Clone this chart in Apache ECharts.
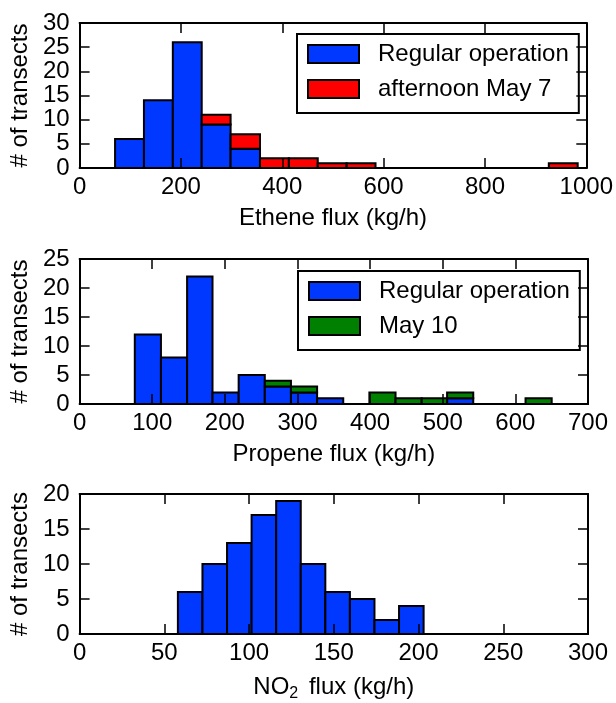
<!DOCTYPE html>
<html>
<head>
<meta charset="utf-8">
<script src="https://cdn.jsdelivr.net/npm/echarts@6.0.0/dist/echarts.min.js"></script>
<style>
  html, body { margin: 0; padding: 0; background: #fff; }
  #chart { width: 616px; height: 703px; }
</style>
</head>
<body>
<div id="chart"></div>
<script>
// histogram bin edges and counts
const etheneEdges = [70, 127, 184, 241, 298, 356, 413, 470, 527, 584, 641, 698, 755, 812, 869, 926, 983];
const etheneRegular = [6, 14, 26, 9, 4, 0, 0, 0, 0, 0, 0, 0, 0, 0, 0, 0];
const etheneMay7 = [0, 0, 0, 2, 3, 2, 2, 1, 1, 0, 0, 0, 0, 0, 0, 1];

const propeneEdges = [76, 112, 148, 183, 219, 255, 291, 327, 363, 399, 435, 471, 506, 542, 578, 614, 650];
const propeneRegular = [12, 8, 22, 2, 5, 3, 2, 1, 0, 0, 0, 0, 1, 0, 0, 0];
const propeneMay10 = [0, 0, 0, 0, 0, 1, 1, 0, 0, 2, 1, 1, 1, 0, 0, 1];

const no2Edges = [58, 72.5, 87, 101.5, 116, 130.5, 145, 159.5, 174, 188.5, 203];
const no2Counts = [6, 10, 13, 17, 19, 10, 6, 5, 2, 4];

const BLUE = "#0038ff";
const RED = "#ff0000";
const GREEN = "#008000";
const FONT = "Liberation Sans";

// [x0, x1, y0, y1] rectangles, stacked on top of `base`
function toRects(edges, counts, base) {
  const out = [];
  counts.forEach((c, i) => {
    if (!c) return;
    const b = base ? base[i] : 0;
    out.push([edges[i], edges[i + 1], b, b + c]);
  });
  return out;
}

function renderBar(params, api) {
  const p0 = api.coord([api.value(0), api.value(3)]);
  const p1 = api.coord([api.value(1), api.value(2)]);
  return {
    type: "rect",
    shape: { x: p0[0], y: p0[1], width: p1[0] - p0[0], height: p1[1] - p0[1] },
    style: { fill: api.visual("color"), stroke: "#000", lineWidth: 2 },
  };
}

const panels = [
  { top: 23, height: 145, xmax: 1000, xint: 200, ymax: 30, name: "Ethene flux (kg/h)" },
  { top: 259, height: 145, xmax: 700, xint: 100, ymax: 25, name: "Propene flux (kg/h)" },
  { top: 494, height: 144, xmax: 300, xint: 50, ymax: 20, name: "NO{sub|2} flux (kg/h)" },
];

const tick = { show: true, inside: true, length: 10, lineStyle: { color: "#000", width: 1.5 } };
const line = { show: true, onZero: false, lineStyle: { color: "#000", width: 2 } };
const labelFont = { fontFamily: FONT, fontSize: 24, color: "#000" };
const plain = (v) => String(v);

const grid = [], xAxis = [], yAxis = [];
panels.forEach((p, i) => {
  grid.push({ left: 79, width: 509, top: p.top, height: p.height });
  xAxis.push({
    type: "value", gridIndex: i, min: 0, max: p.xmax, interval: p.xint, position: "bottom", z: 5,
    axisLine: line, axisTick: tick, splitLine: { show: false },
    axisLabel: { ...labelFont, margin: 7, formatter: plain },
    name: p.name, nameLocation: "middle", nameGap: 38,
    nameTextStyle: {
      ...labelFont,
      rich: { sub: { fontFamily: FONT, fontSize: 16, color: "#000", padding: [14, 4, 0, 0] } },
    },
  });
  xAxis.push({
    type: "value", gridIndex: i, min: 0, max: p.xmax, interval: p.xint, position: "top", z: 5,
    axisLine: line, axisTick: tick, splitLine: { show: false }, axisLabel: { show: false },
  });
  yAxis.push({
    type: "value", gridIndex: i, min: 0, max: p.ymax, interval: 5, position: "left", z: 5,
    axisLine: line, axisTick: tick, splitLine: { show: false },
    axisLabel: { ...labelFont, margin: 10, formatter: plain },
    name: "# of transects", nameLocation: "middle", nameGap: 43, nameTextStyle: labelFont,
  });
  yAxis.push({
    type: "value", gridIndex: i, min: 0, max: p.ymax, interval: 5, position: "right", z: 5,
    axisLine: line, axisTick: tick, splitLine: { show: false }, axisLabel: { show: false },
  });
});

function histSeries(name, color, panel, data) {
  return {
    name, type: "custom", renderItem: renderBar,
    xAxisIndex: panel * 2, yAxisIndex: panel * 2,
    itemStyle: { color, borderColor: "#000", borderWidth: 2 },
    encode: { x: [0, 1], y: [2, 3] },
    data,
  };
}

function legendAt(left, top, names) {
  return {
    left, top, orient: "vertical", icon: "rect",
    itemWidth: 51, itemHeight: 18, itemGap: 11,
    padding: [8, 10, 12, 10],
    borderColor: "#000", borderWidth: 2,
    itemStyle: { borderColor: "#000", borderWidth: 2 },
    textStyle: { ...labelFont, padding: [0, 0, 0, 14] },
    selectedMode: false,
    data: names,
  };
}

const chart = echarts.init(document.getElementById("chart"));
chart.setOption({
  animation: false,
  backgroundColor: "#fff",
  grid, xAxis, yAxis,
  legend: [
    legendAt(297, 34, ["Regular operation", "afternoon May 7"]),
    legendAt(298, 271, ["Regular operation", "May 10"]),
  ],
  series: [
    histSeries("Regular operation", BLUE, 0, toRects(etheneEdges, etheneRegular)),
    histSeries("afternoon May 7", RED, 0, toRects(etheneEdges, etheneMay7, etheneRegular)),
    histSeries("Regular operation", BLUE, 1, toRects(propeneEdges, propeneRegular)),
    histSeries("May 10", GREEN, 1, toRects(propeneEdges, propeneMay10, propeneRegular)),
    histSeries("NO2", BLUE, 2, toRects(no2Edges, no2Counts)),
  ],
});
</script>
</body>
</html>
